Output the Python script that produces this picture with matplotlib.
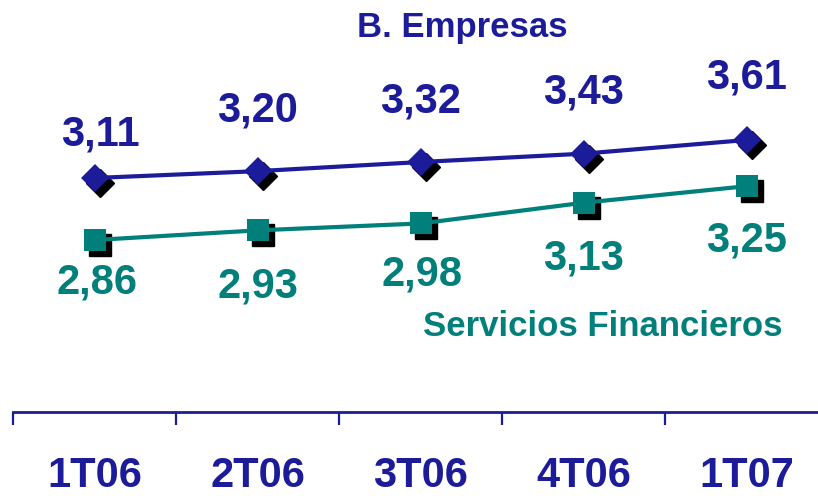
import matplotlib
matplotlib.use("Agg")
import matplotlib.pyplot as plt
import matplotlib.transforms as mtransforms

plt.rcParams['font.family'] = ['Liberation Sans', 'DejaVu Sans']
plt.rcParams['font.weight'] = 'bold'

# data
periods = ["1T06", "2T06", "3T06", "4T06", "1T07"]
empresas = [3.11, 3.20, 3.32, 3.43, 3.61]
servicios = [2.86, 2.93, 2.98, 3.13, 3.25]

navy = "#1c1c9a"
teal = "#007f7b"

fig = plt.figure(figsize=(8.18, 4.96), dpi=100)
W, H = 818, 496
# axes runs past the right edge like the original slide
ax = fig.add_axes([13 / W, (H - 412) / H, 815 / W, 412 / H])
ax2 = ax.twinx()

x = list(range(len(periods)))
ax.set_xlim(-0.5, 4.5)
ax.set_ylim(0.031, 5.452)
ax2.set_ylim(1.614, 4.599)


def shadow(a):
    return mtransforms.offset_copy(a.transData, fig=fig, x=5, y=-5, units='dots')


# shadows first
ax.plot(x, empresas, linestyle='none', marker='D', markersize=14,
        color='black', transform=shadow(ax), zorder=2)
ax2.plot(x, servicios, linestyle='none', marker='s', markersize=16.5,
         color='black', transform=shadow(ax2), zorder=2)

ax.plot(x, empresas, color=navy, lw=3, marker='D', markersize=14,
        markeredgewidth=0, zorder=3)
ax2.plot(x, servicios, color=teal, lw=3, marker='s', markersize=16.5,
         markeredgewidth=0, zorder=3)

# value labels (offsets in pixels)
emp_off = [(6, 43), (0, 61), (0, 61), (0, 61), (0, 62)]
srv_off = [(2, -42), (0, -56), (1, -51), (0, -56), (0, -54)]
for i, v in enumerate(empresas):
    ax.annotate(f"{v:.2f}".replace(".", ","), (i, v), xytext=emp_off[i],
                textcoords='offset pixels', ha='center', va='center',
                fontsize=30, color=navy, fontweight='bold')
for i, v in enumerate(servicios):
    ax2.annotate(f"{v:.2f}".replace(".", ","), (i, v), xytext=srv_off[i],
                 textcoords='offset pixels', ha='center', va='center',
                 fontsize=30, color=teal, fontweight='bold')

fig.text(462 / W, 1 - 27 / H, "B. Empresas", ha='center', va='center',
         fontsize=25, color=navy, fontweight='bold')
fig.text(603 / W, 1 - 326 / H, "Servicios Financieros", ha='center',
         va='center', fontsize=25, color=teal, fontweight='bold')

for a in (ax, ax2):
    for s in ('top', 'right', 'left'):
        a.spines[s].set_visible(False)
    a.set_yticks([])
    a.patch.set_visible(False)
ax2.spines['bottom'].set_visible(False)
ax.spines['bottom'].set_color(navy)
ax.spines['bottom'].set_linewidth(2)

ax.set_xticks(x)
ax.set_xticklabels(periods, fontsize=30, color=navy, fontweight='bold')
ax.set_xticks([-0.5, 0.5, 1.5, 2.5, 3.5, 4.5], minor=True)
ax.tick_params(axis='x', which='major', length=0, pad=32)
ax.tick_params(axis='x', which='minor', length=9.5, width=1.6,
               color=navy, direction='out')

fig.savefig("out.png", dpi=100)
